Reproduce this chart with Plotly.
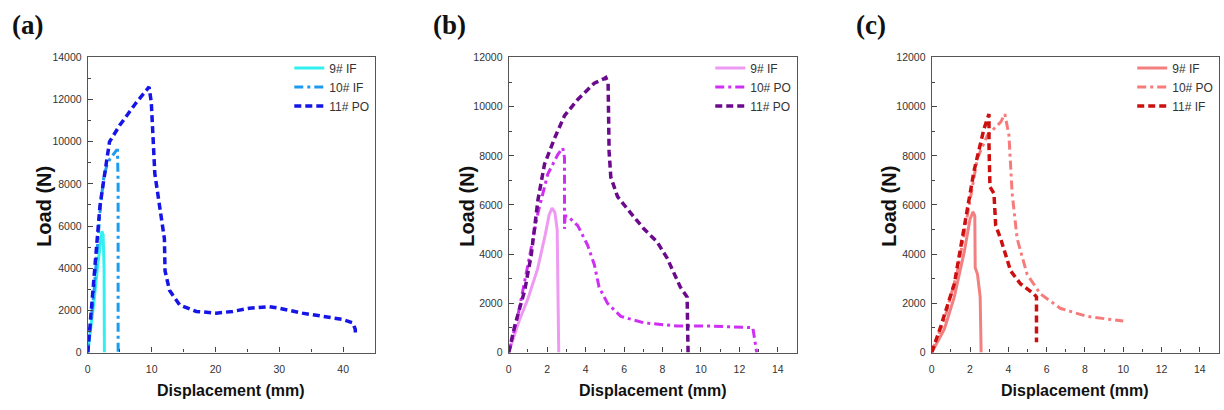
import plotly.graph_objects as go

# ---------------- data ----------------
# Panel (a)
a9_x = [0, 0.5, 1.0, 1.5, 2.0, 2.2, 2.4, 2.55, 2.6]
a9_y = [0, 1200, 2500, 4000, 5500, 5750, 5600, 4000, 0]
a10_x = [0, 0.5, 1.0, 1.5, 2.0, 2.5, 3.0, 3.5, 4.0, 4.5, 4.65, 4.75, 4.75]
a10_y = [0, 1500, 3000, 5000, 7000, 8300, 8900, 9200, 9400, 9600, 9600, 8000, 0]
a11_x = [0, 1.0, 1.9, 2.65, 3.4, 5.0, 7.6, 9.6, 9.95, 10.5, 11.25, 12.0, 12.1, 12.8, 14.4, 17.0,
         20.1, 22.7, 25.3, 28.4, 30.0, 33.6, 36.8, 39.9, 41.5, 41.9, 41.9]
a11_y = [0, 3500, 6940, 8480, 10000, 10780, 11860, 12600, 11860, 8480, 6940, 5400, 3870, 2950, 2260, 1950,
         1870, 1950, 2100, 2180, 2100, 1870, 1720, 1570, 1410, 1100, 800]

# Panel (b)
b9_x = [0, 0.5, 1.0, 1.5, 1.9, 2.1, 2.25, 2.4, 2.52, 2.6]
b9_y = [0, 1200, 2200, 3400, 4800, 5600, 5870, 5700, 5000, 0]
b10_x = [0, 0.5, 1.0, 1.52, 2.03, 2.55, 2.81, 2.9, 2.9, 2.93, 3.07, 3.59, 4.1, 4.45, 4.7, 5.14, 5.83,
         7.03, 8.76, 10.5, 12.7, 12.9]
b10_y = [0, 1600, 3580, 5680, 7260, 8050, 8320, 7920, 5030, 5550, 5550, 5160, 4370, 3580, 2660, 2000, 1470,
         1210, 1080, 1080, 1010, 0]
b11_x = [0, 0.31, 0.83, 1.17, 1.52, 1.86, 2.38, 2.9, 3.59, 4.45, 4.97, 5.05, 5.17, 5.22, 5.31, 5.66, 6.34,
         7.03, 7.72, 8.24, 8.93, 9.28, 9.33]
b11_y = [0, 1080, 2530, 3970, 6210, 7660, 8710, 9630, 10290, 10950, 11140, 11180, 10950, 8180, 7130, 6340, 5680,
         5030, 4500, 3840, 2660, 2260, 0]

# Panel (c)
c9_x = [0, 0.66, 1.18, 1.7, 2.0, 2.16, 2.25, 2.27, 2.39, 2.53, 2.58]
c9_y = [0, 950, 2260, 4100, 5420, 5720, 5550, 3450, 3180, 2260, 0]
c10_x = [0, 0.66, 1.35, 1.87, 2.39, 2.91, 3.6, 3.82, 4.03, 4.2, 4.46, 4.98, 5.67, 6.71, 8.1, 10.0]
c10_y = [0, 1340, 3320, 5550, 7920, 8840, 9370, 9700, 8840, 6470, 4630, 3180, 2390, 1800, 1470, 1280]
c11_x = [0, 0.48, 1.18, 1.7, 2.21, 2.73, 2.99, 2.99, 3.04, 3.25, 3.34, 3.6, 3.86, 4.12, 4.64, 5.33, 5.47, 5.47]
c11_y = [0, 1080, 2790, 5160, 7390, 9100, 9700, 8450, 6740, 6470, 5160, 4630, 3970, 3320, 2790, 2390, 2260, 420]

names_a = ["9# IF", "10# IF", "11# PO"]
names_b = ["9# IF", "10# PO", "11# PO"]
names_c = ["9# IF", "10# PO", "11# IF"]
panel_labels = ["(a)", "(b)", "(c)"]
x_title = "Displacement (mm)"
y_title = "Load (N)"

x_ticks_a = [0, 10, 20, 30, 40]
x_ticks_bc = [0, 2, 4, 6, 8, 10, 12, 14]
y_ticks_a = [0, 2000, 4000, 6000, 8000, 10000, 12000, 14000]
y_ticks_bc = [0, 2000, 4000, 6000, 8000, 10000, 12000]

# ---------------- styles ----------------
DASH = "7px,4px"
DASHDOT = "9px,4px,3px,4px"
colors_a = ["#33F0F0", "#1C9BF0", "#1515E8"]
colors_b = ["#EE9AF2", "#D02EF5", "#6B0A8C"]
colors_c = ["#F38080", "#F77B7B", "#CC1010"]
dashes = ["solid", DASHDOT, DASH]
widths = [3, 3, 3.5]

fig = go.Figure()

panels = [
    ([(a9_x, a9_y), (a10_x, a10_y), (a11_x, a11_y)], names_a, colors_a, "x", "y", "legend"),
    ([(b9_x, b9_y), (b10_x, b10_y), (b11_x, b11_y)], names_b, colors_b, "x2", "y2", "legend2"),
    ([(c9_x, c9_y), (c10_x, c10_y), (c11_x, c11_y)], names_c, colors_c, "x3", "y3", "legend3"),
]
for series, names, cols, xa, ya, lg in panels:
    for (xs, ys), nm, col, ds, lw in zip(series, names, cols, dashes, widths):
        fig.add_trace(go.Scatter(x=xs, y=ys, name=nm, mode="lines",
                                 line=dict(color=col, width=lw, dash=ds),
                                 xaxis=xa, yaxis=ya, legend=lg))

W, H = 1224, 410
doms_px = [(85, 373), (507, 796), (931, 1219)]
ytop, ybot = 53, 357
ydom = [1 - ybot / H, 1 - ytop / H]

tickfont = dict(family="Liberation Sans, Arial", size=10.5, color="#333333")
titlefont_x = dict(family="Liberation Sans, Arial", size=16, color="#111111", weight="bold")
titlefont_y = dict(family="Liberation Sans, Arial", size=20, color="#111111", weight="bold")

def xaxis(dom, rng, ticks, dt):
    return dict(domain=[dom[0] / W, dom[1] / W], range=rng, tickvals=ticks,
                ticktext=[str(t) for t in ticks], ticks="inside",
                ticklen=5, tickwidth=1, tickcolor="#444", showline=True, linecolor="#555",
                linewidth=1.2, mirror=True, showgrid=False, zeroline=False, tickfont=tickfont,
                ticklabelstandoff=7,
                minor=dict(ticks="inside", ticklen=3, dtick=dt / 2, tick0=0, tickcolor="#444"))

def yaxis(anchor, rng, ticks):
    return dict(domain=ydom, range=rng, tickvals=ticks, ticktext=[str(t) for t in ticks],
                ticks="inside", ticklen=5, tickwidth=1,
                tickcolor="#444", showline=True, linecolor="#555", linewidth=1.2, mirror=True,
                showgrid=False, zeroline=False, tickfont=tickfont, anchor=anchor,
                ticklabelstandoff=3,
                minor=dict(ticks="inside", ticklen=3, dtick=1000, tick0=0, tickcolor="#444"))

layout = dict(
    width=W, height=H, margin=dict(l=0, r=0, t=0, b=0),
    paper_bgcolor="white", plot_bgcolor="white", showlegend=True,
    xaxis=dict(xaxis(doms_px[0], [0, 45], x_ticks_a, 10), anchor="y"),
    yaxis=yaxis("x", [0, 14000], y_ticks_a),
    xaxis2=dict(xaxis(doms_px[1], [0, 15], x_ticks_bc, 2), anchor="y2"),
    yaxis2=yaxis("x2", [0, 12000], y_ticks_bc),
    xaxis3=dict(xaxis(doms_px[2], [0, 15], x_ticks_bc, 2), anchor="y3"),
    yaxis3=yaxis("x3", [0, 12000], y_ticks_bc),
)
leg_font = dict(family="Liberation Sans, Arial", size=12, color="#333333")
leg_left = [287, 709, 1132]
for i, key in enumerate(["legend", "legend2", "legend3"]):
    layout[key] = dict(x=leg_left[i] / W, y=1 - 49 / H, xanchor="left", yanchor="top",
                       bgcolor="rgba(0,0,0,0)", font=leg_font, tracegroupgap=0,
                       itemwidth=30)
fig.update_layout(**layout)

label_x = [25, 448, 870]
ytitle_x = [41, 465, 888]
xtitle_x = [229, 652, 1075]
for lx, lab, yx, xx in zip(label_x, panel_labels, ytitle_x, xtitle_x):
    fig.add_annotation(text=lab, x=lx / W, y=1 - 20 / H, xref="paper", yref="paper",
                       showarrow=False, xanchor="center", yanchor="middle",
                       font=dict(family="Liberation Serif, Times New Roman", size=27,
                                 color="#111111", weight="bold"))
    fig.add_annotation(text=y_title, x=yx / W, y=1 - 206 / H, xref="paper", yref="paper",
                       showarrow=False, xanchor="center", yanchor="middle", textangle=-90,
                       font=titlefont_y)
    fig.add_annotation(text=x_title, x=xx / W, y=1 - 396 / H, xref="paper", yref="paper",
                       showarrow=False, xanchor="center", yanchor="middle",
                       font=titlefont_x)

fig.write_html("out.html")
